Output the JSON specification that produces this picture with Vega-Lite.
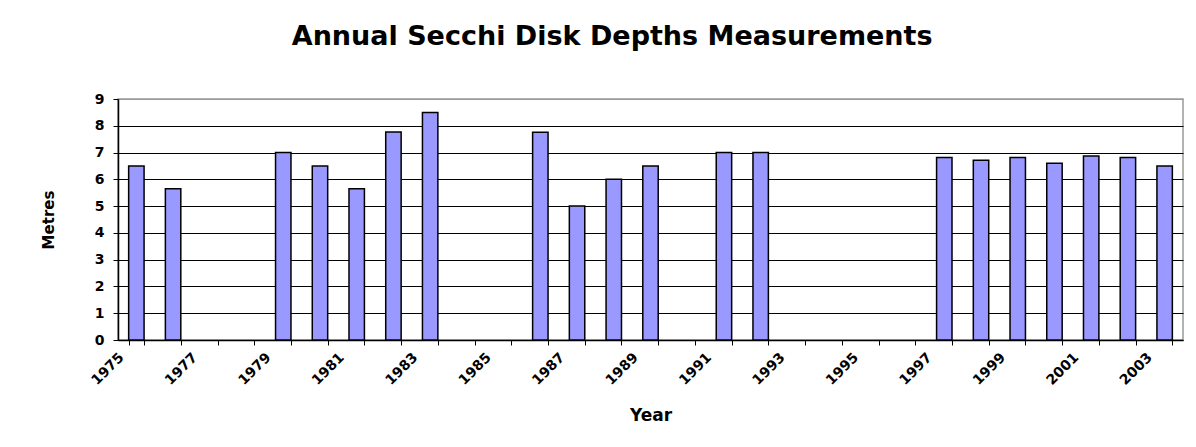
{
  "$schema": "https://vega.github.io/schema/vega-lite/v6.json",
  "autosize": {"type": "none"},
  "padding": {"left": 118, "top": 99, "right": 13, "bottom": 107},
  "width": 1065,
  "height": 241,
  "background": "white",
  "title": {
    "text": "Annual Secchi Disk Depths Measurements",
    "font": "DejaVu Sans",
    "fontSize": 27,
    "fontWeight": "bold",
    "color": "black",
    "anchor": "middle",
    "frame": "bounds",
    "baseline": "alphabetic",
    "offset": 20
  },
  "data": {
    "values": [
      {"Year": 1975, "Metres": 6.5},
      {"Year": 1976, "Metres": 5.65},
      {"Year": 1979, "Metres": 7.0},
      {"Year": 1980, "Metres": 6.5},
      {"Year": 1981, "Metres": 5.65},
      {"Year": 1982, "Metres": 7.77},
      {"Year": 1983, "Metres": 8.5},
      {"Year": 1986, "Metres": 7.76},
      {"Year": 1987, "Metres": 5.0},
      {"Year": 1988, "Metres": 6.0},
      {"Year": 1989, "Metres": 6.5},
      {"Year": 1991, "Metres": 7.0},
      {"Year": 1992, "Metres": 7.0},
      {"Year": 1997, "Metres": 6.82},
      {"Year": 1998, "Metres": 6.71},
      {"Year": 1999, "Metres": 6.82},
      {"Year": 2000, "Metres": 6.6},
      {"Year": 2001, "Metres": 6.87},
      {"Year": 2002, "Metres": 6.82},
      {"Year": 2003, "Metres": 6.5}
    ]
  },
  "mark": {"type": "bar", "fill": "#9999FF", "stroke": "black", "strokeWidth": 1.5},
  "encoding": {
    "x": {
      "field": "Year",
      "type": "ordinal",
      "scale": {
        "domain": [1975, 1976, 1977, 1978, 1979, 1980, 1981, 1982, 1983, 1984, 1985, 1986, 1987, 1988, 1989, 1990, 1991, 1992, 1993, 1994, 1995, 1996, 1997, 1998, 1999, 2000, 2001, 2002, 2003],
        "paddingInner": 0.58,
        "paddingOuter": 0.29
      },
      "axis": {
        "title": "Year",
        "titleFont": "DejaVu Sans",
        "titleFontSize": 17,
        "titleFontWeight": "bold",
        "titleColor": "black",
        "titlePadding": 20,
        "labelFont": "DejaVu Sans",
        "labelFontSize": 14,
        "labelFontWeight": "bold",
        "labelColor": "black",
        "labelAngle": -45,
        "labelAlign": "right",
        "labelBaseline": "top",
        "labelOffset": -20,
        "labelPadding": 5,
        "labelOverlap": false,
        "labelExpr": "datum.value % 2 == 1 ? datum.label : ''",
        "tickBand": "extent",
        "tickSize": 5,
        "tickColor": "black",
        "domainColor": "black",
        "domainWidth": 1.5,
        "grid": false
      }
    },
    "y": {
      "field": "Metres",
      "type": "quantitative",
      "scale": {"domain": [0, 9], "nice": false},
      "axis": {
        "title": "Metres",
        "titleFont": "DejaVu Sans",
        "titleFontSize": 15,
        "titleFontWeight": "bold",
        "titleColor": "black",
        "titlePadding": 38,
        "values": [0, 1, 2, 3, 4, 5, 6, 7, 8, 9],
        "labelFont": "DejaVu Sans",
        "labelFontSize": 14,
        "labelFontWeight": "bold",
        "labelColor": "black",
        "labelPadding": 9,
        "tickSize": 5,
        "tickColor": "black",
        "domainColor": "black",
        "domainWidth": 1.5,
        "grid": true,
        "gridColor": {"condition": {"test": "datum.value == 9", "value": "#9a9a9a"}, "value": "black"},
        "gridWidth": 1
      }
    }
  },
  "config": {
    "view": {"stroke": "#9a9a9a", "strokeWidth": 1.5}
  }
}
